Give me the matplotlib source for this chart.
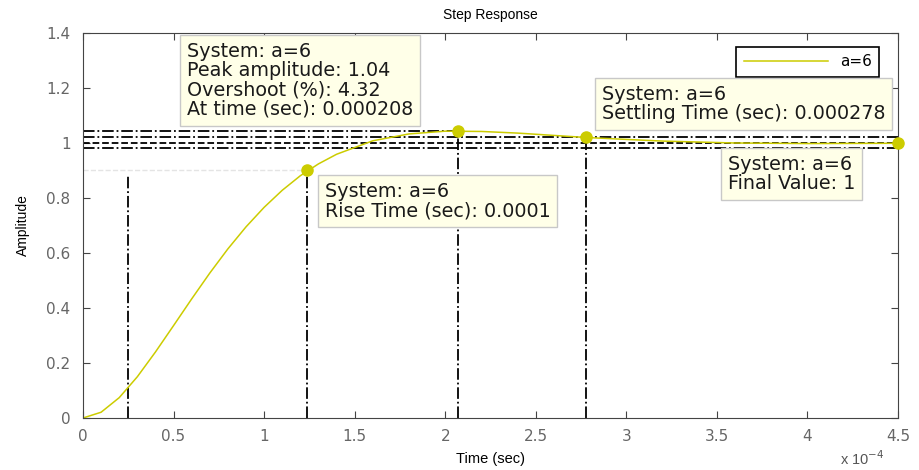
import matplotlib
matplotlib.use("Agg")
import matplotlib.pyplot as plt

# step response of system a=6, time in units of 1e-4 s
time_e4 = [0, 0.1, 0.2, 0.3, 0.4, 0.5, 0.6, 0.7, 0.8, 0.9, 1.0, 1.1, 1.2, 1.3,
           1.4, 1.6, 1.8, 2.0, 2.2, 2.4, 2.78, 3.0, 3.2, 3.6, 4.0, 4.5]
amplitude = [0, 0.021, 0.074, 0.150, 0.240, 0.336, 0.433, 0.527, 0.615, 0.695,
             0.766, 0.828, 0.881, 0.924, 0.959, 1.008, 1.033, 1.043, 1.042, 1.036,
             1.020, 1.013, 1.007, 1.000, 0.998, 0.999]

# characteristic points
rise_start, rise_end, rise_level = 0.25, 1.235, 0.9
peak_time, peak_amp = 2.07, 1.043
settle_time, settle_amp = 2.78, 1.02
final_time, final_value = 4.5, 1.0
settle_band = [1.02, 0.98]

x_ticks = [0, 0.5, 1, 1.5, 2, 2.5, 3, 3.5, 4, 4.5]
x_labels = ["0", "0.5", "1", "1.5", "2", "2.5", "3", "3.5", "4", "4.5"]
y_ticks = [0, 0.2, 0.4, 0.6, 0.8, 1, 1.2, 1.4]
y_labels = ["0", "0.2", "0.4", "0.6", "0.8", "1", "1.2", "1.4"]

yel = "#cccc00"
box = dict(boxstyle="square,pad=0.35", fc="#ffffe8", ec="#c8c8c8", lw=1)

fig = plt.figure(figsize=(9.2, 4.7), dpi=100)
ax = fig.add_axes([83 / 920, 52 / 470, 815 / 920, 385 / 470])

# characteristic guide lines
ax.plot([0, rise_end], [rise_level, rise_level], color="#e4e4e4", ls="--", lw=1)
ax.plot([rise_start, rise_start], [0, 0.88], color="black", ls="-.", lw=1.3)
ax.plot([rise_end, rise_end], [0, rise_level], color="black", ls="-.", lw=1.3)
ax.plot([peak_time, peak_time], [0, peak_amp], color="black", ls="-.", lw=1.3)
ax.plot([settle_time, settle_time], [0, settle_amp], color="black", ls="-.", lw=1.3)
ax.plot([0, peak_time], [peak_amp, peak_amp], color="black", ls="-.", lw=1.3)
ax.plot([0, 4.5], [settle_band[0], settle_band[0]], color="black", ls="-.", lw=1.3)
ax.plot([0, 4.5], [final_value, final_value], color="black", ls="--", lw=1.3)
ax.plot([0, 4.5], [settle_band[1], settle_band[1]], color="black", ls="-.", lw=1.3)

ax.plot(time_e4, amplitude, color=yel, lw=1.1, label="a=6")
ax.plot([rise_end, peak_time, settle_time, final_time],
        [rise_level, peak_amp, settle_amp, final_value],
        ls="none", marker="o", ms=8, color=yel, clip_on=False, zorder=5)

fs = 13.8
tc = "#1a1a1a"
ax.text(0.574, 1.367, "System: a=6\nPeak amplitude: 1.04\nOvershoot (%): 4.32\nAt time (sec): 0.000208",
        fontsize=fs, color=tc, va="top", ha="left", linespacing=1.02, bbox=box, zorder=6)
ax.text(2.866, 1.211, "System: a=6\nSettling Time (sec): 0.000278",
        fontsize=fs, color=tc, va="top", ha="left", linespacing=1.02, bbox=box, zorder=6,
        clip_on=False)
ax.text(3.561, 0.956, "System: a=6\nFinal Value: 1",
        fontsize=fs, color=tc, va="top", ha="left", linespacing=1.02, bbox=box, zorder=6)
ax.text(1.336, 0.858, "System: a=6\nRise Time (sec): 0.0001",
        fontsize=fs, color=tc, va="top", ha="left", linespacing=1.02, bbox=box, zorder=6)

ax.set_xlim(0, 4.5)
ax.set_ylim(0, 1.4)
ax.set_xticks(x_ticks)
ax.set_xticklabels(x_labels)
ax.set_yticks(y_ticks)
ax.set_yticklabels(y_labels)
ax.tick_params(direction="in", top=True, right=True, length=5, labelsize=11,
               labelcolor="#666666", color="#444444")
ax.tick_params(axis="x", pad=8)
ax.tick_params(axis="y", pad=9)
for sp in ax.spines.values():
    sp.set_color("#444444")

ax.set_title("Step Response", fontsize=10, pad=10, family="Liberation Sans")
ax.set_xlabel("Time (sec)", fontsize=10.5, family="Liberation Sans", labelpad=6)
ax.set_ylabel("Amplitude", fontsize=10, family="Liberation Sans", labelpad=12)
fig.text(840 / 920, 1 - 465 / 470, "x 10$^{-4}$", fontsize=10.5, color="#555555",
         family="Liberation Sans")

leg = ax.legend(loc="upper right", bbox_to_anchor=(0.9865, 0.984), fontsize=11,
                fancybox=False, framealpha=1, edgecolor="black", handlelength=5.5,
                borderpad=0.5)
leg.get_frame().set_linewidth(1.2)

fig.savefig("out.png", dpi=100)
